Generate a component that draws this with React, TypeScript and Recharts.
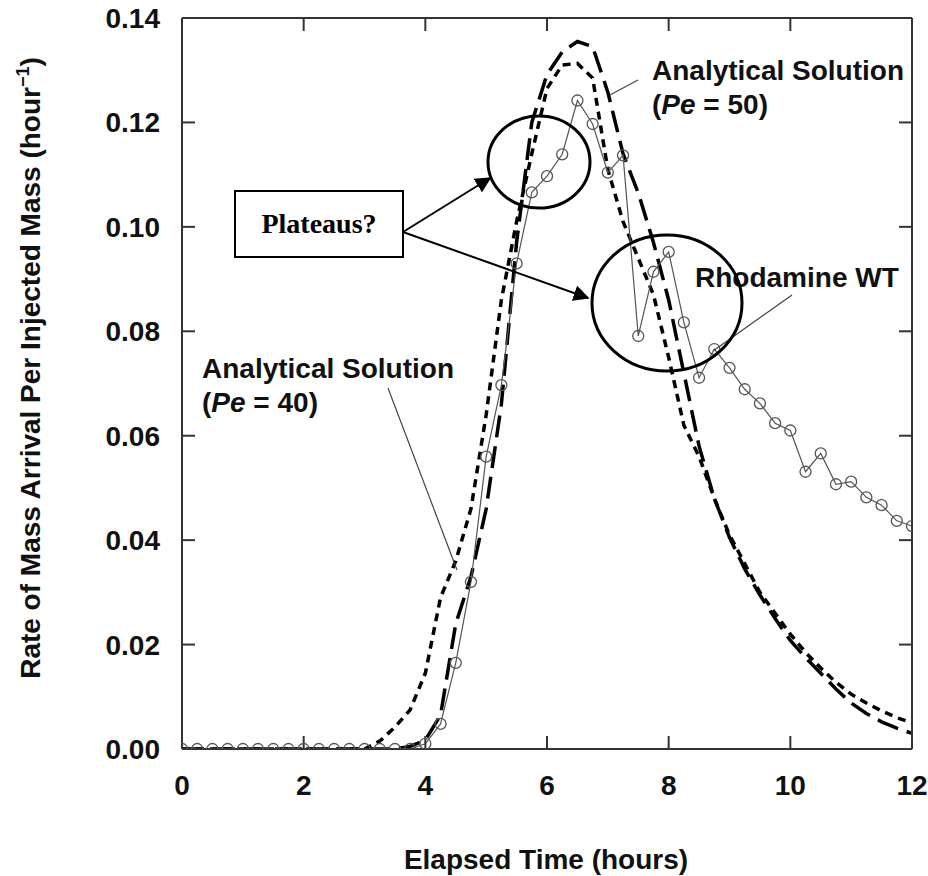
import { LineChart, Line, XAxis, YAxis } from "recharts";

// elapsed time (hours), sampled every quarter hour
const hours = [
  0, 0.25, 0.5, 0.75, 1, 1.25, 1.5, 1.75, 2, 2.25, 2.5, 2.75, 3, 3.25, 3.5, 3.75,
  4, 4.25, 4.5, 4.75, 5, 5.25, 5.5, 5.75, 6, 6.25, 6.5, 6.75, 7, 7.25, 7.5, 7.75,
  8, 8.25, 8.5, 8.75, 9, 9.25, 9.5, 9.75, 10, 10.25, 10.5, 10.75, 11, 11.25, 11.5,
  11.75, 12,
];

// measured Rhodamine WT
const rhodamine = [
  0, 0, 0, 0, 0, 0, 0, 0, 0, 0, 0, 0, 0, 0, 0, 0,
  0.001, 0.0048, 0.0165, 0.032, 0.056, 0.0697, 0.093, 0.1066, 0.1097, 0.1139,
  0.1242, 0.1197, 0.1104, 0.1137, 0.0791, 0.0914, 0.0952, 0.0817, 0.0711, 0.0766,
  0.073, 0.0689, 0.0662, 0.0624, 0.061, 0.0531, 0.0566, 0.0507, 0.0512, 0.0482,
  0.0467, 0.0437, 0.0427,
];

// analytical solution, Pe = 40
const pe40 = [
  0, 0, 0, 0, 0, 0, 0, 0, 0, 0, 0, 0, 0,
  0.0015, 0.0042, 0.0075, 0.0145, 0.029, 0.036, 0.046, 0.064, 0.086, 0.101, 0.114,
  0.1265, 0.131, 0.1313, 0.1285, 0.111, 0.101, 0.094, 0.087, 0.075, 0.062, 0.056,
  0.048, 0.041, 0.0355, 0.03, 0.026, 0.022, 0.0185, 0.0155, 0.0128, 0.0105, 0.0088,
  0.0073, 0.006, 0.005,
];

// analytical solution, Pe = 50
const pe50 = [
  0, 0, 0, 0, 0, 0, 0, 0, 0, 0, 0, 0, 0, 0, 0,
  0.0005, 0.0017, 0.0065, 0.024, 0.033, 0.046, 0.066, 0.097, 0.12, 0.1292, 0.1335,
  0.1355, 0.1345, 0.1258, 0.114, 0.1065, 0.097, 0.086, 0.072, 0.058, 0.048, 0.0405,
  0.0345, 0.0295, 0.025, 0.0208, 0.0175, 0.0145, 0.0115, 0.0088, 0.0068, 0.0052,
  0.004, 0.003,
];

const xTicks = [0, 2, 4, 6, 8, 10, 12];
const yTicks = [0, 0.02, 0.04, 0.06, 0.08, 0.1, 0.12, 0.14];

const data = hours.map((t, i) => ({
  t,
  rhodamine: rhodamine[i],
  pe40: pe40[i],
  pe50: pe50[i],
}));

const font = "'Liberation Sans', Arial, sans-serif";
const axisColor = "#333";
const tickStyle = { fontSize: 28, fontWeight: 700, fill: "#111", fontFamily: font };
const noLabel = () => <g />;
const tickMark = { stroke: axisColor, strokeWidth: 2 };

export default function App() {
  return (
    <div
      style={{
        position: "absolute",
        left: 0,
        top: 0,
        width: 928,
        height: 876,
        background: "#fff",
      }}
    >
      <LineChart
        width={928}
        height={876}
        data={data}
        margin={{ top: 18, right: 16, bottom: 60, left: 72 }}
      >
        {/* labelled axes */}
        <XAxis
          dataKey="t"
          type="number"
          domain={[0, 12]}
          ticks={xTicks}
          allowDataOverflow
          height={67}
          tickSize={0}
          tickLine={false}
          tickMargin={26}
          tick={tickStyle}
          stroke={axisColor}
          strokeWidth={2}
        />
        <YAxis
          type="number"
          domain={[0, 0.14]}
          ticks={yTicks}
          allowDataOverflow
          width={110}
          tickSize={0}
          tickLine={false}
          tickMargin={22}
          tick={tickStyle}
          tickFormatter={(v: number) => v.toFixed(2)}
          stroke={axisColor}
          strokeWidth={2}
        />

        {/* inward tick marks on all four sides */}
        <XAxis
          xAxisId="bt"
          dataKey="t"
          type="number"
          mirror
          domain={[0, 12]}
          ticks={xTicks}
          allowDataOverflow
          tickSize={13}
          tickLine={tickMark}
          tick={noLabel}
          stroke={axisColor}
          strokeWidth={2}
        />
        <XAxis
          xAxisId="tp"
          dataKey="t"
          type="number"
          orientation="top"
          mirror
          domain={[0, 12]}
          ticks={xTicks}
          allowDataOverflow
          tickSize={13}
          tickLine={tickMark}
          tick={noLabel}
          stroke={axisColor}
          strokeWidth={2}
        />
        <YAxis
          yAxisId="lt"
          type="number"
          mirror
          domain={[0, 0.14]}
          ticks={yTicks}
          allowDataOverflow
          tickSize={13}
          tickLine={tickMark}
          tick={noLabel}
          stroke={axisColor}
          strokeWidth={2}
        />
        <YAxis
          yAxisId="rt"
          orientation="right"
          type="number"
          mirror
          domain={[0, 0.14]}
          ticks={yTicks}
          allowDataOverflow
          tickSize={13}
          tickLine={tickMark}
          tick={noLabel}
          stroke={axisColor}
          strokeWidth={2}
        />

        <Line
          dataKey="pe40"
          type="linear"
          stroke="#000"
          strokeWidth={3.5}
          strokeDasharray="8 6"
          dot={false}
          isAnimationActive={false}
        />
        <Line
          dataKey="pe50"
          type="linear"
          stroke="#000"
          strokeWidth={3.5}
          strokeDasharray="22 9"
          dot={false}
          isAnimationActive={false}
        />
        <Line
          dataKey="rhodamine"
          type="linear"
          stroke="#555"
          strokeWidth={1.2}
          dot={{ r: 5.5, fill: "none", stroke: "#555", strokeWidth: 1.3 }}
          isAnimationActive={false}
        />
      </LineChart>

      <svg
        width={928}
        height={876}
        style={{ position: "absolute", left: 0, top: 0, pointerEvents: "none" }}
        fontFamily={font}
      >
        <defs>
          <marker id="head" viewBox="0 0 10 10" refX="9" refY="5" markerWidth="8" markerHeight="8" orient="auto">
            <path d="M0,0 L10,5 L0,10 z" fill="#000" />
          </marker>
        </defs>

        {/* axis titles */}
        <text
          transform="translate(40,368) rotate(-90)"
          textAnchor="middle"
          fontSize={28}
          fontWeight={700}
          fill="#111"
        >
          Rate of Mass Arrival Per Injected Mass (hour
          <tspan fontSize={18} dy={-11}>−1</tspan>
          <tspan dy={11}>)</tspan>
        </text>
        <text x={546} y={869} textAnchor="middle" fontSize={28} fontWeight={700} fill="#111">
          Elapsed Time (hours)
        </text>

        {/* curve labels */}
        <text x={652} y={80} fontSize={28} fontWeight={700} fill="#111">Analytical Solution</text>
        <text x={652} y={114} fontSize={28} fontWeight={700} fill="#111">
          (<tspan fontStyle="italic">Pe</tspan> = 50)
        </text>
        <line x1={638} y1={80} x2={610} y2={95} stroke="#444" strokeWidth={1.2} />

        <text x={202} y={378} fontSize={28} fontWeight={700} fill="#111">Analytical Solution</text>
        <text x={202} y={412} fontSize={28} fontWeight={700} fill="#111">
          (<tspan fontStyle="italic">Pe</tspan> = 40)
        </text>
        <line x1={388} y1={388} x2={457} y2={570} stroke="#444" strokeWidth={1.2} />

        <text x={695} y={287} fontSize={28} fontWeight={700} fill="#111">Rhodamine WT</text>
        <line x1={792} y1={295} x2={713} y2={351} stroke="#444" strokeWidth={1.2} />

        {/* plateau callouts */}
        <ellipse cx={539} cy={162} rx={51} ry={46} fill="none" stroke="#000" strokeWidth={3} />
        <ellipse cx={667} cy={303} rx={75} ry={68} fill="none" stroke="#000" strokeWidth={3} />
        <rect x={235} y={191} width={168} height={66} fill="#fff" stroke="#000" strokeWidth={2} />
        <text
          x={319}
          y={233}
          textAnchor="middle"
          fontFamily="'Liberation Serif', 'Times New Roman', serif"
          fontSize={28}
          fontWeight={700}
          fill="#000"
        >
          Plateaus?
        </text>
        <line x1={403} y1={232} x2={490} y2={178} stroke="#000" strokeWidth={2} markerEnd="url(#head)" />
        <line x1={403} y1={232} x2={588} y2={298} stroke="#000" strokeWidth={2} markerEnd="url(#head)" />
      </svg>
    </div>
  );
}
